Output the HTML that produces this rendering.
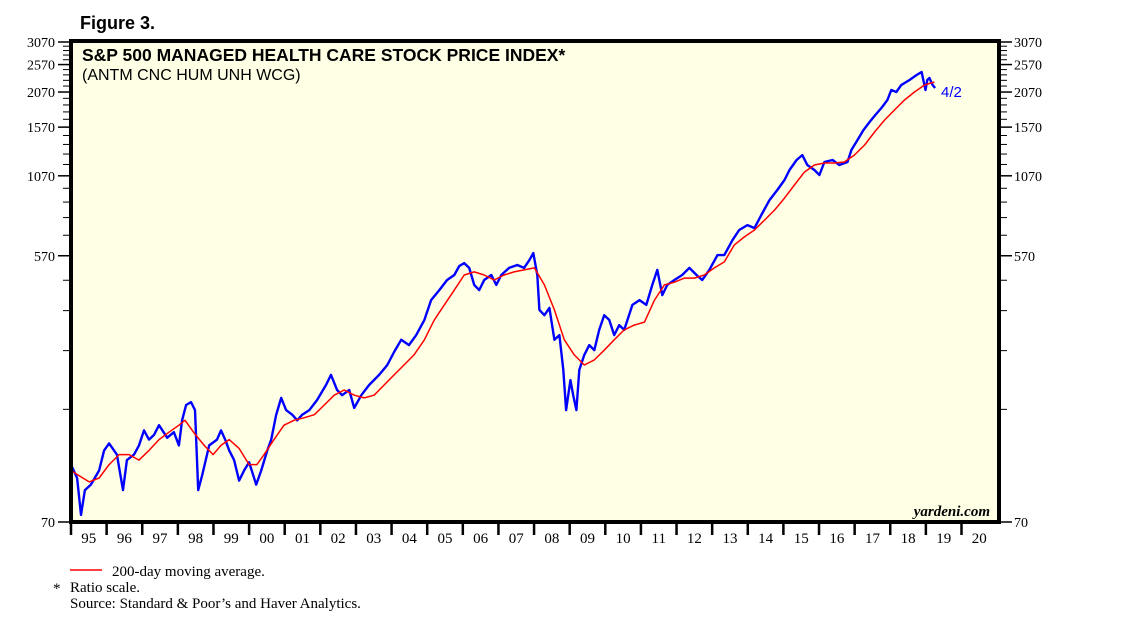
<!DOCTYPE html>
<html><head><meta charset="utf-8"><style>
html,body{margin:0;padding:0;background:#fff;}
svg{display:block;}
</style></head><body>
<svg id="chart" width="1138" height="626" xmlns="http://www.w3.org/2000/svg">
<text x="80" y="29" font-family="Liberation Sans, sans-serif" font-weight="bold" font-size="18">Figure 3.</text>
<rect x="71" y="41" width="928" height="481" fill="#FFFFE6"/>
<g id="grid"></g>
<g id="series"></g>
<rect x="71" y="41" width="928" height="481" fill="none" stroke="#000" stroke-width="4"/>
<text x="82" y="61" font-family="Liberation Sans, sans-serif" font-weight="bold" font-size="17.5">S&amp;P 500 MANAGED HEALTH CARE STOCK PRICE INDEX*</text>
<text x="82" y="80" font-family="Liberation Sans, sans-serif" font-size="16">(ANTM CNC HUM UNH WCG)</text>
<text x="941" y="97" font-family="Liberation Sans, sans-serif" font-size="15" fill="#0000ff">4/2</text>
<text x="990" y="516" text-anchor="end" font-family="Liberation Serif, serif" font-style="italic" font-weight="bold" font-size="15">yardeni.com</text>
<line x1="70" y1="570" x2="102" y2="570" stroke="#ff0000" stroke-width="1.5"/>
<text x="112" y="576" font-family="Liberation Serif, serif" font-size="15">200-day moving average.</text>
<text x="53" y="593" font-family="Liberation Serif, serif" font-size="15">*</text>
<text x="70" y="592" font-family="Liberation Serif, serif" font-size="15">Ratio scale.</text>
<text x="70" y="608" font-family="Liberation Serif, serif" font-size="15">Source: Standard &amp; Poor’s and Haver Analytics.</text>
<g id="axes"></g>
</svg>
<script>
const yTicks=[70,570,1070,1570,2070,2570,3070];
const years=["95","96","97","98","99","00","01","02","03","04","05","06","07","08","09","10","11","12","13","14","15","16","17","18","19","20"];
const priceDates=[1995.00,1995.17,1995.28,1995.39,1995.56,1995.79,1995.93,1996.07,1996.29,1996.46,1996.57,1996.77,1996.91,1997.05,1997.19,1997.33,1997.47,1997.70,1997.89,1998.03,1998.12,1998.23,1998.37,1998.48,1998.57,1998.68,1998.88,1999.10,1999.21,1999.33,1999.44,1999.58,1999.72,1999.86,2000.00,2000.20,2000.34,2000.51,2000.62,2000.76,2000.90,2001.04,2001.21,2001.35,2001.49,2001.69,2001.91,2002.16,2002.30,2002.47,2002.61,2002.81,2002.95,2003.15,2003.37,2003.65,2003.88,2004.07,2004.27,2004.49,2004.69,2004.92,2005.11,2005.34,2005.56,2005.76,2005.90,2006.04,2006.18,2006.32,2006.46,2006.60,2006.80,2006.94,2007.08,2007.30,2007.53,2007.72,2007.87,2007.98,2008.09,2008.15,2008.29,2008.43,2008.57,2008.71,2008.82,2008.90,2009.02,2009.10,2009.19,2009.27,2009.41,2009.55,2009.69,2009.83,2009.97,2010.11,2010.25,2010.39,2010.53,2010.76,2010.96,2011.15,2011.32,2011.46,2011.60,2011.74,2011.94,2012.16,2012.36,2012.56,2012.72,2012.92,2013.15,2013.34,2013.57,2013.76,2013.99,2014.19,2014.38,2014.61,2014.83,2015.03,2015.17,2015.37,2015.53,2015.67,2015.87,2016.01,2016.15,2016.38,2016.57,2016.80,2016.91,2017.08,2017.25,2017.42,2017.58,2017.75,2017.92,2018.03,2018.17,2018.31,2018.54,2018.74,2018.88,2018.99,2019.04,2019.10,2019.19,2019.26];
const priceValues=[110,99,74,90,94,105,123,130,119,90,114,119,128,144,134,139,150,136,142,128,156,176,180,169,90,101,128,134,144,134,123,114,97,105,112,94,105,123,134,163,186,169,163,156,163,169,183,206,223,198,190,198,172,190,206,223,241,267,294,282,305,344,402,435,471,490,526,538,518,453,435,471,490,453,490,518,530,518,551,582,490,372,357,378,294,305,232,169,214,190,169,232,261,282,271,318,357,344,305,330,318,387,402,387,453,510,418,453,471,490,518,490,471,510,573,573,645,698,726,709,786,884,957,1035,1120,1212,1260,1165,1120,1077,1193,1212,1165,1193,1311,1419,1535,1635,1727,1825,1944,2104,2071,2188,2276,2367,2423,2104,2276,2312,2188,2137];
const maDates=[1995.00,1995.22,1995.51,1995.79,1996.07,1996.35,1996.63,1996.91,1997.19,1997.47,1997.75,1998.03,1998.20,1998.46,1998.74,1998.99,1999.21,1999.44,1999.72,2000.00,2000.22,2000.42,2000.70,2000.98,2001.26,2001.54,2001.83,2002.11,2002.39,2002.67,2002.95,2003.23,2003.51,2003.79,2004.07,2004.35,2004.63,2004.92,2005.20,2005.48,2005.76,2006.04,2006.32,2006.60,2006.88,2007.16,2007.44,2007.72,2008.01,2008.29,2008.57,2008.85,2009.13,2009.41,2009.69,2009.97,2010.25,2010.53,2010.81,2011.10,2011.38,2011.66,2011.94,2012.22,2012.50,2012.78,2013.06,2013.34,2013.62,2013.90,2014.19,2014.47,2014.75,2015.03,2015.31,2015.59,2015.87,2016.15,2016.43,2016.71,2016.99,2017.28,2017.56,2017.84,2018.12,2018.40,2018.68,2018.96,2019.24];
const maValues=[105,101,96,99,110,119,119,114,123,134,142,150,156,141,128,119,128,134,125,110,110,119,134,150,156,159,163,176,190,198,190,186,190,206,223,241,261,294,344,387,435,490,502,490,471,490,502,510,518,453,372,294,261,241,251,271,294,318,330,338,402,453,463,478,478,490,518,543,620,661,698,755,817,898,995,1102,1165,1184,1184,1193,1260,1364,1511,1661,1797,1944,2071,2188,2240];

const NS='http://www.w3.org/2000/svg';
const X0=71,YW=35.62,Y0=522,Y1=42;
const lmin=Math.log(70),lmax=Math.log(3070);
function xScale(t){return X0+(t-1995)*YW;}
function yScale(v){return Y0-(Math.log(v)-lmin)/(lmax-lmin)*(Y0-Y1);}
function mk(tag,attrs,parent){const e=document.createElementNS(NS,tag);for(const k in attrs)e.setAttribute(k,attrs[k]);parent.appendChild(e);return e;}
const axes=document.getElementById('axes'),series=document.getElementById('series');

for(let v=170;v<=2970;v+=100){
  if(yTicks.indexOf(v)>=0)continue;
  const y=yScale(v);
  const a=mk('line',{x1:63,x2:69,y1:y,y2:y,stroke:'#000','stroke-width':1},axes);
  
  
  const b=mk('line',{x1:1001,x2:1007,y1:y,y2:y,stroke:'#000','stroke-width':1},axes);
  
  
}
yTicks.forEach(v=>{
  const y=yScale(v);
  const a=mk('line',{x1:58,x2:69,y1:y,y2:y,stroke:'#000','stroke-width':1.5},axes);
  
  
  const b=mk('line',{x1:1001,x2:1012,y1:y,y2:y,stroke:'#000','stroke-width':1.5},axes);
  
  
  const t1=mk('text',{x:55,y:y+5,'text-anchor':'end','font-family':'Liberation Serif, serif','font-size':14},axes);
  t1.textContent=v;
  
  
  const t2=mk('text',{x:1014,y:y+5,'font-family':'Liberation Serif, serif','font-size':14},axes);
  t2.textContent=v;
  
  
});
years.forEach((lab,i)=>{
  const x=xScale(1995+i);
  const tk=mk('line',{x1:x,x2:x,y1:522,y2:535,stroke:'#000','stroke-width':2.5},axes);
  
  
  const t=mk('text',{x:x+YW/2,y:543,'text-anchor':'middle','font-family':'Liberation Serif, serif','font-size':15},axes);
  t.textContent=lab;
  
  
});
function path(d,v,color,w,name){
  let s='';
  for(let i=0;i<d.length;i++)s+=(i?'L':'M')+xScale(d[i]).toFixed(1)+','+yScale(v[i]).toFixed(1);
  const p=mk('path',{d:s,fill:'none',stroke:color,'stroke-width':w,'stroke-linejoin':'round'},series);
  
  
}
path(priceDates,priceValues,'#0000ff',2.4,'price-index-line');
path(maDates,maValues,'#ff0000',1.5,'moving-average-line');
</script>
</body></html>
